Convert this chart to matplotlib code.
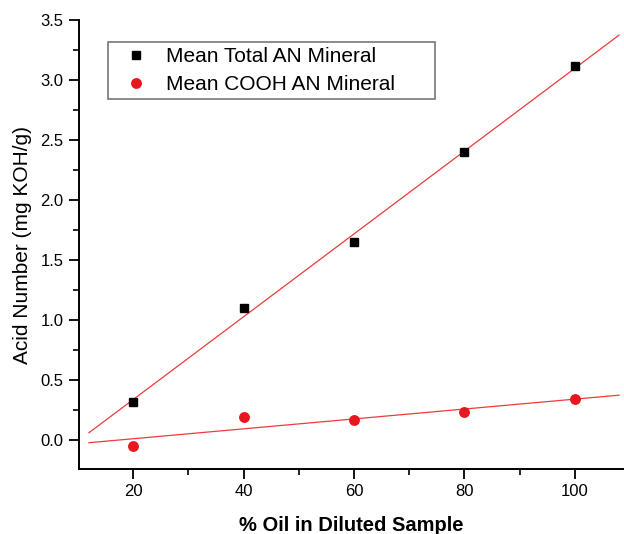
import numpy as np
import matplotlib
matplotlib.use("Agg")
import matplotlib.pyplot as plt
from matplotlib.ticker import MultipleLocator

plt.rcParams['font.family'] = ['Liberation Sans', 'DejaVu Sans']

oil_pct = [20, 40, 60, 80, 100]
total_an = [0.32, 1.10, 1.65, 2.40, 3.12]
cooh_an = [-0.05, 0.19, 0.17, 0.235, 0.34]
fit_range = [12, 108]

fig = plt.figure(figsize=(6.24, 5.34), dpi=100)
ax = fig.add_axes([79/624, 65/534, 1 - 79/624, (469-20)/534])

x = np.array(oil_pct, dtype=float)
xf = np.array(fit_range, dtype=float)
line_col = '#ee3b3b'
for yv in (total_an, cooh_an):
    k, b = np.polyfit(x, np.array(yv), 1)
    ax.plot(xf, k * xf + b, color=line_col, lw=0.9, zorder=2)

ax.plot(oil_pct, total_an, 's', color='black', ms=6.2, ls='none',
        label='Mean Total AN Mineral', zorder=3)
ax.plot(oil_pct, cooh_an, 'o', color='#e8161e', ms=6.8, ls='none',
        label='Mean COOH AN Mineral', zorder=3)

ax.set_xlim(10.2, 108.9)
ax.set_ylim(-0.24, 3.5)
ax.xaxis.set_major_locator(MultipleLocator(20))
ax.xaxis.set_minor_locator(MultipleLocator(10))
ax.yaxis.set_major_locator(MultipleLocator(0.5))
ax.yaxis.set_minor_locator(MultipleLocator(0.25))
ax.yaxis.set_major_formatter(plt.FormatStrFormatter('%.1f'))
for s in ('top', 'right'):
    ax.spines[s].set_visible(False)
for s in ('left', 'bottom'):
    ax.spines[s].set_linewidth(1.4)
ax.tick_params(which='major', direction='out', length=7, width=1.3, labelsize=12, pad=4)
ax.tick_params(which='minor', direction='out', length=4, width=1.2)

ax.set_ylabel('Acid Number (mg KOH/g)', fontsize=15, labelpad=6)
ax.set_xlabel('% Oil in Diluted Sample', fontsize=14.5, fontweight='bold', labelpad=12)

leg = ax.legend(loc='upper left', bbox_to_anchor=(108/624, 1 - 97/534, (435-108)/624, (97-42)/534),
                bbox_transform=fig.transFigure, mode='expand', borderaxespad=0,
                fontsize=15, frameon=True, fancybox=False, handlelength=2.2,
                handletextpad=0.35, labelspacing=0.43, borderpad=0.25)
leg.get_frame().set_edgecolor('#555555')
leg.get_frame().set_linewidth(1.2)

fig.savefig('out.png', dpi=100)
